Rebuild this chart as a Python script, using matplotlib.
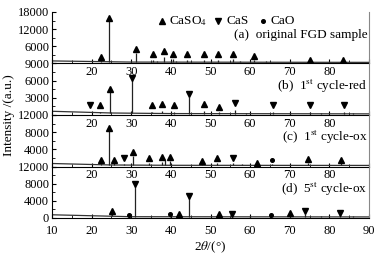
import numpy as np
import matplotlib
matplotlib.use('Agg')
import matplotlib.pyplot as plt
from matplotlib.ticker import MultipleLocator, AutoMinorLocator

plt.rcParams['font.family'] = ['Liberation Serif', 'DejaVu Serif']
plt.rcParams['mathtext.fontset'] = 'stix'

# baseline of each pattern: (2theta, intensity)
base_a = [(10, 900), (20, 700), (30, 500), (90, 400)]
base_b = [(10, 650), (25, 350), (40, 250), (90, 200)]
base_c = [(10, 700), (25, 350), (40, 280), (90, 250)]
base_d = [(10, 750), (30, 300), (90, 250)]

# peaks: 2theta and intensity
peaks_a_x = [22.4, 24.4, 31.1, 35.4, 36.5, 38.3, 40.6, 41.2, 44.0, 48.4, 51.9, 55.7, 57.5,
             61.0, 64.0, 66.5, 70.0, 75.1, 78.0, 83.4, 86.0]
peaks_a_y = [1200, 15300, 3500, 1300, 900, 2100, 1500, 1000, 1100, 1300, 1300, 1400, 700,
             1200, 700, 650, 650, 1100, 650, 900, 600]
peaks_b_x = [19.6, 22.1, 24.6, 30.3, 35.2, 37.7, 40.8, 44.6, 48.4, 52.2, 56.2, 59.0, 65.8,
             70.0, 75.0, 78.0, 83.7, 86.0]
peaks_b_y = [450, 550, 4000, 6200, 500, 700, 600, 3200, 650, 500, 850, 350, 500,
             350, 600, 350, 450, 300]
peaks_c_x = [22.3, 24.4, 25.7, 28.2, 30.5, 34.5, 37.8, 38.5, 39.9, 47.9, 51.7, 55.7, 58.0,
             61.8, 65.6, 69.0, 74.5, 78.0, 82.9, 86.0]
peaks_c_y = [900, 8500, 700, 600, 2500, 700, 1100, 1500, 1300, 800, 800, 900, 500,
             550, 600, 450, 900, 450, 700, 400]
peaks_d_x = [25.2, 29.4, 30.9, 39.9, 42.0, 44.6, 52.2, 55.3, 60.0, 65.3, 70.1, 73.8, 78.0,
             82.7, 86.0]
peaks_d_y = [900, 500, 7700, 550, 600, 4900, 450, 700, 350, 450, 500, 900, 350,
             700, 350]

# phase markers: 2theta, kind (s = CaSO4, c = CaS, o = CaO), height
mark_a = [(22.4, 's', 2200), (24.4, 's', 15800), (31.1, 's', 4900), (35.4, 's', 3200),
          (38.3, 's', 4200), (40.6, 's', 3200), (44.0, 's', 3200), (48.4, 's', 3200),
          (51.9, 's', 3200), (55.7, 's', 3200), (61.0, 's', 2600), (75.1, 's', 1300),
          (83.4, 's', 1300)]
mark_b = [(19.6, 'c', 1700), (22.1, 's', 1700), (24.6, 's', 4600), (30.3, 'c', 6500),
          (35.2, 's', 1700), (37.7, 's', 2000), (40.8, 's', 1700), (44.6, 'c', 3600),
          (48.4, 's', 1850), (52.2, 's', 1400), (56.2, 'c', 2100), (65.8, 'c', 1800),
          (75.0, 'c', 1800), (83.7, 'c', 1700)]
mark_c = [(22.3, 's', 1500), (24.4, 's', 8900), (25.7, 's', 1500), (28.2, 'c', 1900),
          (30.5, 's', 3400), (34.5, 's', 1900), (37.8, 's', 2300), (39.9, 's', 2300),
          (47.9, 's', 1250), (51.7, 's', 2000), (55.7, 'c', 1900), (61.8, 's', 870),
          (65.6, 'o', 1500), (74.5, 's', 1700), (82.9, 's', 1500)]
mark_d = [(25.2, 's', 1650), (29.4, 'o', 630), (30.9, 'c', 7900), (39.9, 'o', 870),
          (42.0, 's', 1000), (44.6, 'c', 5200), (52.2, 's', 870), (55.3, 'c', 1000),
          (65.3, 'o', 700), (70.1, 's', 1250), (73.8, 'c', 1650), (82.7, 'c', 1250)]

labels = ['(a)  original FGD sample', r'(b)  1$^{\rm st}$ cycle-red',
          r'(c)  1$^{\rm st}$ cycle-ox', r'(d)  5$^{\rm st}$ cycle-ox']
ylims = [18000, 9000, 12000, 12000]
ysteps = [6000, 3000, 4000, 4000]

styles = {'s': dict(marker='^', ms=4.5), 'c': dict(marker='v', ms=4.5),
          'o': dict(marker='o', ms=2.6)}

bases = [base_a, base_b, base_c, base_d]
peaks = [(peaks_a_x, peaks_a_y), (peaks_b_x, peaks_b_y),
         (peaks_c_x, peaks_c_y), (peaks_d_x, peaks_d_y)]
marks = [mark_a, mark_b, mark_c, mark_d]

fig = plt.figure(figsize=(3.8, 2.61), dpi=100)
left, right = 52 / 380., 369 / 380.
top, bottom = 12 / 261., 218 / 261.
h = (bottom - top) / 4

for i in range(4):
    ax = fig.add_axes([left, 1 - top - h * (i + 1), right - left, h])
    ax.set_facecolor('none')
    bx = [p[0] for p in bases[i]]
    by = [p[1] for p in bases[i]]
    ax.plot(bx, by, color='#333333', lw=0.9)
    px, py = peaks[i]
    foot = np.interp(px, bx, by)
    ax.vlines(px, foot, py, color='#222222', lw=0.9)
    for a, k, y in marks[i]:
        ax.plot(a, y, color='black', ls='none', **styles[k])
    ax.set_xlim(10, 90)
    ax.set_ylim(0, ylims[i])
    ax.xaxis.set_major_locator(MultipleLocator(10))
    ax.xaxis.set_minor_locator(MultipleLocator(5))
    ax.yaxis.set_minor_locator(AutoMinorLocator(2))
    ax.tick_params(which='both', direction='in', labelsize=9, pad=2)
    ax.tick_params(which='major', length=3)
    ax.tick_params(which='minor', length=2)
    ax.spines['right'].set_color('#888888')
    ax.spines['top'].set_visible(False)
    yt = np.arange(0, ylims[i] + 1, ysteps[i])
    ax.set_yticks(yt)
    if i < 3:
        ax.set_yticklabels(['' if v == 0 else str(int(v)) for v in yt])
        ax.set_xticks(range(10, 91, 10))
        ax.set_xticklabels(['' if v in (10, 90) else str(v) for v in range(10, 91, 10)])
    else:
        ax.tick_params(axis='x', pad=5)
    ax.text(0.995, 0.56, labels[i], transform=ax.transAxes, ha='right', va='center',
            fontsize=9.5)
    if i == 0:
        ax.plot(0.347, 0.83, marker='^', ms=4.5, color='black', transform=ax.transAxes)
        ax.text(0.37, 0.83, r'CaSO$_4$', transform=ax.transAxes, va='center', fontsize=9.5)
        ax.plot(0.524, 0.83, marker='v', ms=4.5, color='black', transform=ax.transAxes)
        ax.text(0.549, 0.83, 'CaS', transform=ax.transAxes, va='center', fontsize=9.5)
        ax.plot(0.666, 0.83, marker='o', ms=2.6, color='black', transform=ax.transAxes)
        ax.text(0.688, 0.83, 'CaO', transform=ax.transAxes, va='center', fontsize=9.5)

fig.text(9 / 380., 1 - 115 / 261., 'Intensity /(a.u.)', rotation=90,
         ha='center', va='center', fontsize=9.5)
fig.text(210.5 / 380., 1 - 247 / 261., r'2$\theta$/(°)', ha='center', va='center',
         fontsize=9.5)

fig.savefig('out.png', dpi=100)
